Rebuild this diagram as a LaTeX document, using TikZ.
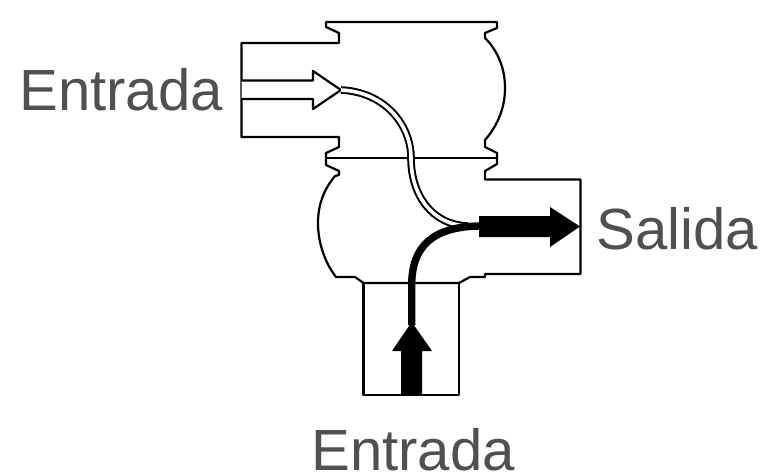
\documentclass[tikz,border=0pt]{standalone}
\usepackage{fontspec}
\setmainfont{Liberation Sans}
\definecolor{labelgray}{HTML}{505050}
\begin{document}
\begin{tikzpicture}[x=1pt, y=-1pt,
    outline/.style={draw=black, line width=2.2pt, line join=round},
    flowlabel/.style={text=labelgray, font=\fontsize{58.1}{60}\selectfont, inner sep=0pt}]
    \useasboundingbox (0, 0) rectangle (763, 476);
    % valve body
    \draw[outline] (326, 22) -- (497, 22) -- (497, 28) -- (485, 33) -- (485, 38)
        .. controls (499, 52) and (505, 70) .. (505, 88)
        .. controls (505, 106) and (499, 124) .. (485, 140)
        -- (485, 147) -- (497, 153) -- (497, 164) -- (485, 171) -- (485, 179.5)
        -- (580.5, 179.5) -- (580.5, 274) -- (485, 274) -- (485, 277) -- (470, 277)
        -- (459, 283) -- (363.5, 283) -- (355, 277) -- (336, 277)
        .. controls (325, 263) and (318, 243) .. (318, 223)
        .. controls (318, 203) and (325, 188) .. (335, 176)
        -- (339, 175) -- (339, 171) -- (326, 165) -- (326, 153) -- (339, 147) -- (339, 137)
        -- (241.5, 137) -- (241.5, 43) -- (339, 43) -- (339, 33) -- (326, 27) -- cycle;
    \draw[outline] (326, 158) -- (497, 158);
    \draw[outline] (363.5, 283) -- (363.5, 395) -- (459, 395) -- (459, 283);
    % white flow
    \draw[outline, fill=white] (241.5, 80.5) -- (313, 80.5) -- (313, 71) -- (341, 90)
        -- (313, 109) -- (313, 99) -- (241.5, 99);
    \draw[line width=2pt, double=white, double distance=3.6pt]
        (341, 90) .. controls (385, 92) and (411, 125) .. (411, 158)
        .. controls (411, 195) and (432, 225) .. (468, 226);
    % black flow
    \draw[line width=7.4pt] (411.7, 325) -- (411.7, 285)
        .. controls (411.7, 247) and (432, 226) .. (482, 226);
    \fill (401, 395) -- (401, 351) -- (392, 351) -- (411.7, 322) -- (432, 351)
        -- (422, 351) -- (422, 395) -- cycle;
    \fill (479, 216) -- (550, 216) -- (550, 207) -- (580, 226.5) -- (550, 247)
        -- (550, 237) -- (479, 237) -- cycle;
    % labels
    \node[flowlabel] (entradaA) at (121, 90) {Entrada};
    \node[flowlabel] (salida) at (677, 229) {Salida};
    \node[flowlabel] (entradaB) at (413, 449.5) {Entrada};
\end{tikzpicture}
\end{document}
